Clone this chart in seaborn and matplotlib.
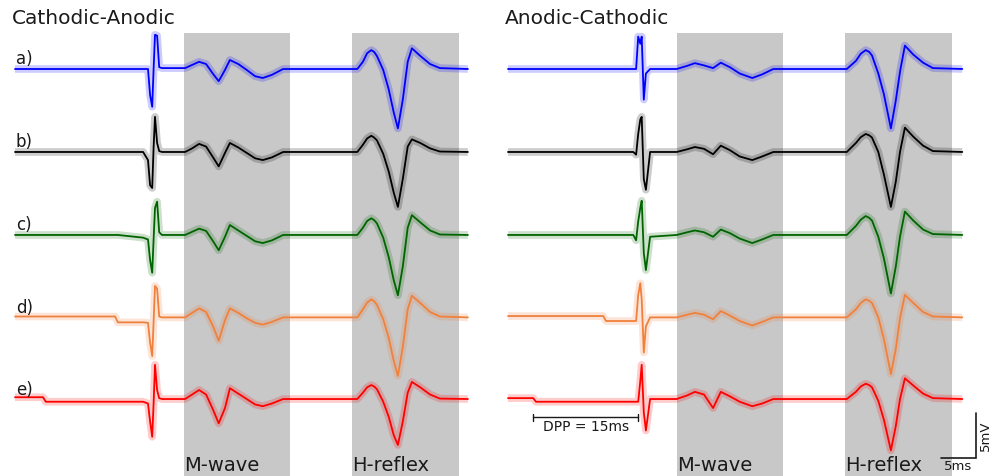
import matplotlib
matplotlib.use("Agg")
import matplotlib.pyplot as plt
import seaborn as sns
import numpy as np

# ---- data (time in ms, amplitude in mV relative to each trace's baseline) ----
rows = ["a)", "b)", "c)", "d)", "e)"]
colors = ["#0000ff", "#000000", "#006400", "#f0813c", "#ff0000"]

t_left = [0.0, 4.0, 4.4, 14.3, 14.7, 18.3, 19.0, 19.3, 19.6, 19.8, 20.0, 20.3, 20.6, 21.0,
          24.3, 25.3, 26.3, 27.3, 28.3, 29.1, 30.0, 30.7, 31.9, 33.1, 34.3, 35.4, 36.7, 38.3,
          48.9, 49.7, 50.3, 50.9, 51.3, 51.7, 52.6, 53.4, 54.1, 54.7, 55.4, 56.1, 56.7,
          57.9, 59.3, 60.7, 64.7]

left_a = [0, 0, 0, 0, 0, 0, 0, -2.9, -4.2, 0, 3.8, 3.7, 0.2, 0.1,
          0.1, 0.45, 0.8, 0.55, -0.55, -1.35, -0.1, 1.0, 0.55, -0.1, -0.8, -1.0, -0.65, 0,
          0, 0.8, 1.75, 2.1, 1.9, 1.45, -0.1, -2.3, -4.8, -6.6, -3.4, 0.8, 2.3,
          1.45, 0.55, 0.1, 0]
left_b = [0, 0, 0, 0, 0, 0, -0.9, -3.7, -4.0, 0.5, 3.9, 1.0, 0.1, 0,
          0, 0.4, 0.9, 0.6, -0.6, -1.6, -0.1, 1.0, 0.5, -0.1, -0.7, -0.9, -0.6, 0,
          0, 0.8, 1.5, 1.8, 1.6, 1.3, -0.2, -2.2, -4.5, -6.1, -3.0, 0.6, 1.4,
          1.0, 0.4, 0.05, 0]
left_c = [0, 0, 0, 0, 0, -0.3, -0.5, -2.8, -4.2, -0.5, 3.0, 3.7, 0.3, 0,
          0, 0.35, 0.7, 0.45, -0.7, -1.7, -0.2, 1.1, 0.5, -0.1, -0.7, -0.9, -0.6, 0,
          0, 0.8, 1.55, 1.85, 1.65, 1.3, -0.3, -2.5, -5.0, -6.7, -3.5, 0.8, 2.2,
          1.4, 0.5, 0.05, 0]
left_d = [0.1, 0.1, 0.1, 0.1, -0.55, -0.55, -0.6, -2.8, -4.3, -0.5, 3.5, 3.2, 0.1, 0,
          0, 0.5, 1.0, 0.6, -1.0, -2.6, -0.3, 1.0, 0.5, -0.1, -0.6, -0.8, -0.5, 0,
          0, 0.9, 1.65, 2.0, 1.8, 1.4, -0.2, -2.3, -4.8, -6.5, -3.3, 0.9, 2.4,
          1.6, 0.6, 0.1, 0]
left_e = [0.2, 0.2, -0.3, -0.3, -0.3, -0.3, -0.5, -2.5, -4.2, -0.5, 3.8, 1.0, 0.1, 0,
          0, 0.5, 1.0, 0.5, -1.2, -2.7, -1.0, 1.2, 0.6, 0, -0.6, -0.8, -0.5, 0,
          0, 0.7, 1.3, 1.55, 1.4, 1.1, -0.3, -2.0, -4.0, -5.1, -2.5, 0.7, 1.9,
          1.3, 0.5, 0.05, 0]

t_right = [0.0, 3.6, 4.0, 13.6, 14.0, 17.9, 18.3, 18.6, 18.9, 19.1, 19.4, 19.7, 20.3,
           24.1, 25.6, 26.7, 28.0, 29.3, 30.4, 31.7, 33.1, 34.9, 36.3, 37.9,
           48.4, 49.7, 50.4, 51.1, 51.6, 52.0, 52.9, 53.7, 54.7, 55.4, 56.0, 56.7,
           57.9, 59.3, 60.7, 64.9]

right_a = [0, 0, 0, 0, 0, 0, 0, 3.6, 2.8, 3.6, -3.4, -0.5, 0,
           0, 0.35, 0.65, 0.4, 0.1, 0.7, 0.2, -0.5, -1.0, -0.6, 0,
           0, 0.9, 1.7, 2.1, 1.9, 1.5, -0.5, -2.8, -6.6, -3.5, -0.3, 2.6,
           1.6, 0.7, 0.1, 0]
right_b = [0, 0, 0, 0, 0, 0, -0.3, 2.0, 3.6, 3.9, -3.0, -4.2, 0,
           0, 0.3, 0.55, 0.35, -0.25, 0.7, 0.2, -0.5, -0.9, -0.5, 0,
           0, 1.0, 1.65, 2.0, 1.85, 1.6, 0.0, -2.5, -6.1, -3.3, 0.0, 2.7,
           1.7, 0.7, 0.1, 0]
right_c = [0, 0, 0, 0, 0, 0, -0.6, 1.5, 3.0, 3.8, -2.0, -3.9, -0.2,
           0, 0.3, 0.5, 0.3, -0.2, 0.6, 0.2, -0.4, -0.9, -0.5, 0,
           0, 1.0, 1.7, 2.1, 1.9, 1.6, -0.2, -2.6, -6.5, -3.5, -0.2, 2.6,
           1.6, 0.6, 0.1, 0]
right_d = [0.15, 0.15, 0.15, 0.15, -0.4, -0.4, -0.4, 2.5, 3.8, 2.0, -3.9, -1.0, 0,
           0, 0.3, 0.5, 0.3, -0.2, 0.7, 0.2, -0.4, -0.9, -0.5, 0,
           0, 0.9, 1.6, 2.0, 1.85, 1.6, 0.0, -2.4, -6.3, -3.5, -0.1, 2.5,
           1.6, 0.6, 0.1, 0]
right_e = [0.1, 0.1, -0.3, -0.3, -0.3, -0.3, -0.3, -0.3, 2.0, 3.8, -1.5, -3.5, 0,
           0, 0.4, 0.8, 0.5, -1.0, 0.8, 0.3, -0.3, -0.8, -0.5, 0,
           0, 0.8, 1.4, 1.7, 1.55, 1.3, -0.2, -2.3, -5.7, -3.0, 0.0, 2.3,
           1.5, 0.6, 0.1, 0]

windows = [(24.1, 39.3, "M-wave"), (48.2, 63.4, "H-reflex")]
dpp_start, dpp_len = 3.6, 15
scale_ms, scale_mv = 5, 5

panels = [("Cathodic-Anodic", t_left, [left_a, left_b, left_c, left_d, left_e]),
          ("Anodic-Cathodic", t_right, [right_a, right_b, right_c, right_d, right_e])]

# ---- layout ----
offsets = [0, -9.22, -18.44, -27.6, -36.67]
ytop = 4.0
ybot = ytop - 443 / 9.0
W, H = 1000, 476

sns.set_style("white")
plt.rcParams["font.family"] = ["DejaVu Sans"]
txt = "#1a1a1a"

fig = plt.figure(figsize=(10, 4.76), dpi=100)
for k, (title, t, traces) in enumerate(panels):
    x0 = 15 if k == 0 else 508
    ax = fig.add_axes([x0 / W, 0, 455 / W, 443 / H])
    ax.set_xlim(0, 65)
    ax.set_ylim(ybot, ytop)
    ax.axis("off")
    for lo, hi, lab in windows:
        ax.axvspan(lo, hi, color="#c8c8c8", lw=0, zorder=0)
        ax.text(lo, ybot + 0.6, lab, fontsize=14, color=txt, ha="left", va="baseline")
    for i, (vals, col) in enumerate(zip(traces, colors)):
        y = np.array(vals) + offsets[i]
        sns.lineplot(x=t, y=y, ax=ax, color=col, lw=5.5, alpha=0.2, estimator=None,
                     sort=False, solid_capstyle="butt", clip_on=False)
        sns.lineplot(x=t, y=y, ax=ax, color=col, lw=1.3, estimator=None,
                     sort=False, clip_on=False)
        if k == 0:
            ax.text(0.1, offsets[i] + 0.5, rows[i], fontsize=12, color=txt,
                    ha="left", va="baseline")
    fig.text((x0 - 3) / W, 1 - 18 / H, title, fontsize=14.5, color=txt,
             ha="left", va="center")
    if k == 1:
        # DPP bar
        yb = -38.7
        ax.plot([dpp_start, dpp_start + dpp_len], [yb, yb], color=txt, lw=1)
        for xe in (dpp_start, dpp_start + dpp_len):
            ax.plot([xe, xe], [yb - 0.4, yb + 0.4], color=txt, lw=1)
        ax.text(dpp_start + dpp_len / 2, yb - 1.05, "DPP = 15ms", fontsize=10,
                color=txt, ha="center", va="center")
        # scale bar
        sx1 = 66.86
        sy0 = -43.2
        ax.plot([sx1 - scale_ms, sx1, sx1], [sy0, sy0, sy0 + scale_mv], color=txt,
                lw=1.2, clip_on=False, solid_joinstyle="miter")
        ax.text(sx1 - scale_ms / 2, sy0 - 0.25, "5ms", fontsize=9.5, color=txt,
                ha="center", va="top", clip_on=False)
        ax.text(sx1 + 0.35, sy0 + scale_mv / 2, "5mV", fontsize=9.5, color=txt,
                ha="left", va="center", rotation=90, clip_on=False)

fig.savefig("out.png", dpi=100)
